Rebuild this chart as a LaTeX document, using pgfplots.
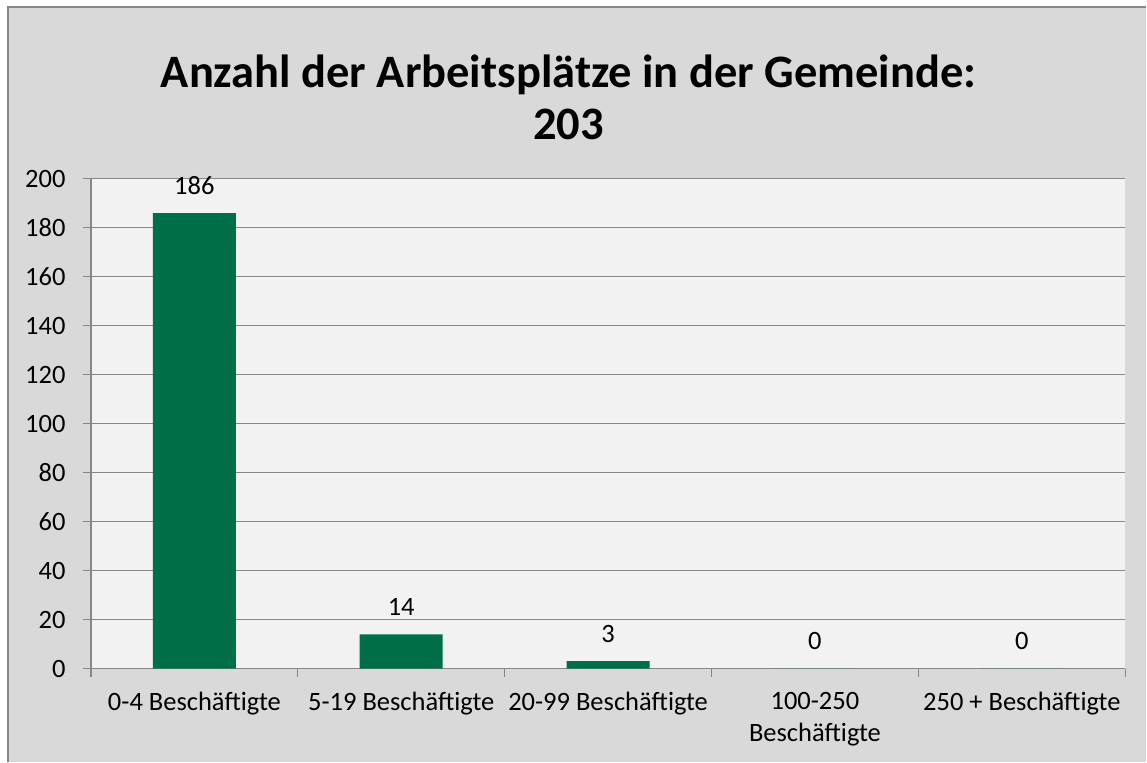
\documentclass[border=0pt]{standalone}
\usepackage{pgfplots}
\pgfplotsset{compat=1.18}
\usepackage{fontspec}
\setmainfont{Carlito}
\definecolor{outerbg}{HTML}{D9D9D9}
\definecolor{plotbg}{HTML}{F2F2F2}
\definecolor{gridc}{HTML}{878787}
\definecolor{barc}{HTML}{006E46}
\begin{document}
\begin{tikzpicture}
\fill[white] (-91bp,-93bp) rectangle (1056bp,669bp);
\fill[outerbg] (-83bp,-93bp) rectangle (1056bp,662bp);
\draw[gridc,line width=1.5bp] (-83bp,-93bp) -- (-83bp,662bp) -- (1056bp,662bp);
\node[font=\fontsize{46.5bp}{50bp}\selectfont\bfseries] at (478bp,594bp) {Anzahl der Arbeitsplätze in der Gemeinde:};
\node[font=\fontsize{46.5bp}{50bp}\selectfont\bfseries] at (478bp,544bp) {203};
\begin{axis}[
  scale only axis,
  width=1035bp, height=490bp,
  xmin=-0.5, xmax=4.5,
  ymin=0, ymax=200,
  ytick={0,20,...,200},
  xtick={-0.5,0.5,...,4.5},
  xticklabels={},
  extra x ticks={0,1,2,3,4},
  extra x tick labels={0-4 Beschäftigte,5-19 Beschäftigte,20-99 Beschäftigte,{100-250\\Beschäftigte},250 + Beschäftigte},
  extra x tick style={major tick length=0pt, tick style={draw=none}},
  x tick label style={align=center, font=\fontsize{26.5bp}{32bp}\selectfont, yshift=-20bp},
  y tick label style={font=\fontsize{26.5bp}{31bp}\selectfont, xshift=-14bp},
  /pgf/number format/assume math mode=true,
  axis background/.style={fill=plotbg},
  axis lines*=left,
  axis line style={gridc, line width=1.2bp},
  ymajorgrids,
  major grid style={gridc, line width=1.2bp},
  major tick length=8bp,
  tick align=outside,
  tick style={gridc, line width=1.2bp},
  ybar, bar width=83bp,
  nodes near coords,
  nodes near coords style={font=\fontsize{26.5bp}{31bp}\selectfont, black, yshift=15bp},
  clip=false,
]
\addplot[fill=barc, draw=none] coordinates {(0,186) (1,14) (2,3) (3,0) (4,0)};
\end{axis}
\end{tikzpicture}
\end{document}
